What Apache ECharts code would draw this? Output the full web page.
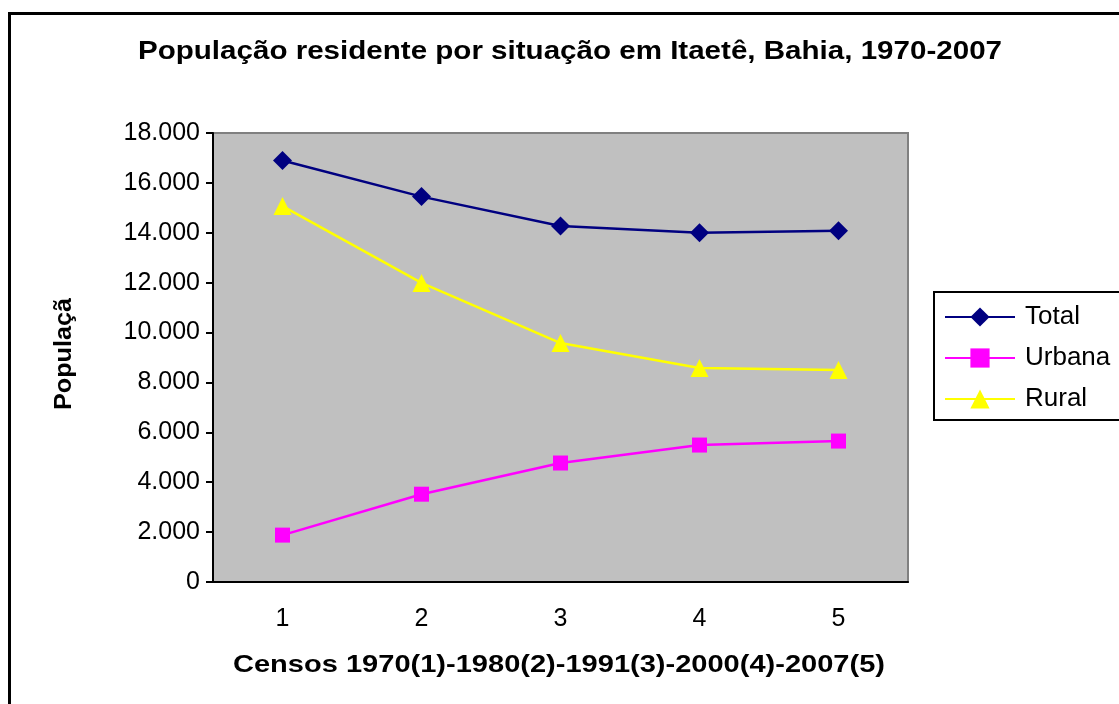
<!DOCTYPE html>
<html>
<head>
<meta charset="utf-8">
<script src="https://cdn.jsdelivr.net/npm/echarts@6/dist/echarts.min.js"></script>
<style>
html,body{margin:0;padding:0;background:#fff;}
#chart{width:1119px;height:704px;}
</style>
</head>
<body>
<div id="chart"></div>
<script>
// dados do censo
var censos = ['1', '2', '3', '4', '5'];
var total = [16900, 15450, 14270, 14000, 14080];
var urbana = [1880, 3520, 4770, 5490, 5650];
var rural = [15070, 11990, 9580, 8580, 8500];
var yTicks = { min: 0, max: 18000, interval: 2000 };

var fonte = '"Liberation Sans", Arial, sans-serif';
var titulo = 'População residente por situação em Itaetê, Bahia, 1970-2007';
var nomeX = 'Censos 1970(1)-1980(2)-1991(3)-2000(4)-2007(5)';
var nomeY = 'Populaçã';

var mychart = echarts.init(document.getElementById('chart'));

function milhar(v){
	return String(v).replace(/\B(?=(\d{3})+(?!\d))/g, '.');
}

// largura do texto, para esticar como no Excel
var ctx = document.createElement('canvas').getContext('2d');
function largura(txt, size){
	ctx.font = 'bold ' + size + 'px ' + fonte;
	return ctx.measureText(txt).width;
}

function textoEsticado(txt, size, cx, cy, alvo, rot){
	return {
		type: 'text',
		x: cx, y: cy,
		rotation: rot || 0,
		scaleX: alvo / largura(txt, size),
		silent: true,
		style: {
			text: txt,
			fill: '#000',
			font: 'bold ' + size + 'px ' + fonte,
			textAlign: 'center',
			textVerticalAlign: 'middle'
		}
	};
}

var option = {
	animation: false,
	backgroundColor: '#fff',
	textStyle: { fontFamily: fonte },
	graphic: [
		{
			type: 'rect',
			shape: { x: 9.5, y: 13.5, width: 1200, height: 800 },
			style: { fill: 'none', stroke: '#000', lineWidth: 3 },
			silent: true
		},
		textoEsticado(titulo, 25, 570, 52, 864),
		textoEsticado(nomeX, 24, 559, 665, 652),
		textoEsticado(nomeY, 23, 65, 354, 112, Math.PI / 2)
	],
	legend: {
		orient: 'vertical',
		left: 934,
		top: 292,
		padding: [12, 30, 8, 10],
		itemGap: 15,
		itemWidth: 70,
		itemHeight: 24,
		borderColor: '#000',
		borderWidth: 2,
		textStyle: { fontSize: 26, color: '#000', fontFamily: fonte, padding: [0, 0, 0, 5] },
		data: ['Total', 'Urbana', 'Rural']
	},
	grid: {
		left: 213,
		top: 133,
		width: 695,
		height: 449,
		show: true,
		backgroundColor: '#C0C0C0',
		borderColor: '#808080',
		borderWidth: 2
	},
	xAxis: {
		type: 'category',
		data: censos,
		boundaryGap: true,
		axisLine: { lineStyle: { color: '#000', width: 2 } },
		axisTick: { alignWithLabel: false, length: 8, lineStyle: { color: '#000', width: 2 } },
		axisLabel: { fontSize: 25, color: '#000', margin: 25 }
	},
	yAxis: {
		type: 'value',
		min: yTicks.min,
		max: yTicks.max,
		interval: yTicks.interval,
		axisLine: { show: true, lineStyle: { color: '#000', width: 2 } },
		axisTick: { show: true, length: 7, lineStyle: { color: '#000', width: 2 } },
		splitLine: { show: false },
		axisLabel: { fontSize: 25, color: '#000', margin: 13, formatter: milhar }
	},
	series: [
		{
			name: 'Total', type: 'line', data: total,
			symbol: 'diamond', symbolSize: 19,
			itemStyle: { color: '#000080' },
			lineStyle: { color: '#000080', width: 2.5 }
		},
		{
			name: 'Urbana', type: 'line', data: urbana,
			symbol: 'rect', symbolSize: 15,
			itemStyle: { color: '#FF00FF' },
			lineStyle: { color: '#FF00FF', width: 2.5 }
		},
		{
			name: 'Rural', type: 'line', data: rural,
			symbol: 'triangle', symbolSize: 18,
			itemStyle: { color: '#FFFF00' },
			lineStyle: { color: '#FFFF00', width: 2.5 }
		}
	]
};
mychart.setOption(option);
</script>
</body>
</html>
